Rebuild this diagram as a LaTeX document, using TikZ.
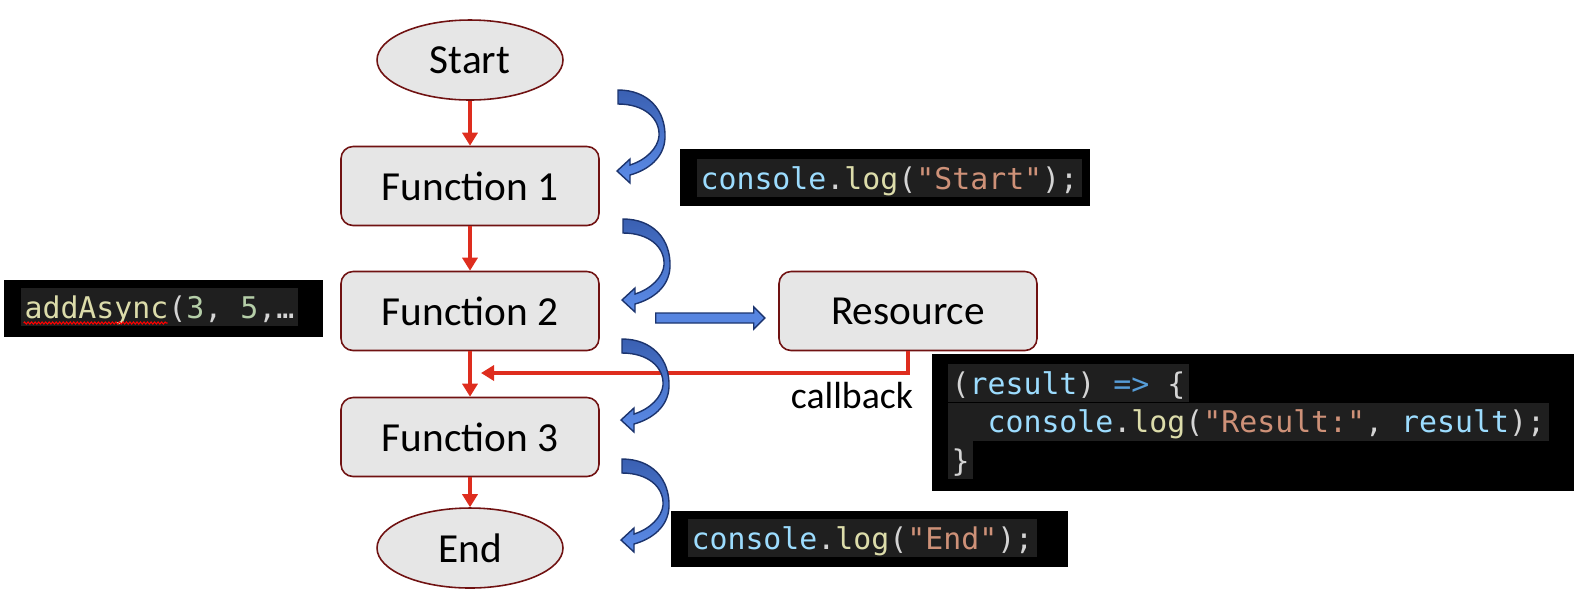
\documentclass[tikz,border=0pt]{standalone}
\usepackage{fontspec}
\setmainfont{Carlito}
\setmonofont{DejaVu Sans Mono}
\usetikzlibrary{shapes.geometric, arrows.meta, decorations.pathmorphing}

\definecolor{boxline}{RGB}{112,18,18}
\definecolor{boxfill}{RGB}{230,230,230}
\definecolor{flowred}{RGB}{222,45,30}
\definecolor{curltop}{RGB}{58,96,178}
\definecolor{curlbot}{RGB}{92,140,232}
\definecolor{curlline}{RGB}{28,52,110}
\definecolor{codebg}{RGB}{31,31,31}
\definecolor{cid}{RGB}{156,220,254}
\definecolor{cfn}{RGB}{220,220,170}
\definecolor{cstr}{RGB}{206,145,120}
\definecolor{cpun}{RGB}{212,212,212}
\definecolor{ckw}{RGB}{86,156,214}
\definecolor{cnum}{RGB}{181,206,168}

\begin{document}
\begin{tikzpicture}[x=0.02cm, y=-0.02cm,
    func/.style={rectangle, rounded corners=0.24cm, draw=boxline, line width=0.9pt, fill=boxfill, minimum width=5.16cm, minimum height=1.58cm, font=\fontsize{23.5}{28}\selectfont},
    term/.style={ellipse, draw=boxline, line width=0.9pt, fill=boxfill, minimum width=3.72cm, minimum height=1.6cm, inner sep=0pt, font=\fontsize{23.5}{28}\selectfont},
    flow/.style={draw=flowred, line width=2.6pt, -{Triangle[width=0.3cm, length=0.26cm]}},
    codebox/.style={fill=black, inner sep=0pt},
    codeline/.style={fill=codebg, text=cpun, anchor=north west, inner xsep=2pt, inner ysep=0pt, text height=0.6cm, text depth=0.16cm, font=\ttfamily\fontsize{17}{20}\selectfont},
    curlfill/.style={draw=curlline, line width=0.8pt, top color=curltop, bottom color=curlbot},
    blockfill/.style={draw=curlline, line width=0.8pt, fill=curlbot!85!curltop},
    squig/.style={draw=red, line width=0.6pt, decorate, decoration={zigzag, segment length=2pt, amplitude=0.6pt}},
    pics/curl/.style={code={
        \path[curlfill] (0,0) .. controls (30,0) and (48,20) .. (47,48)
            .. controls (46,68) and (30,80) .. (12,85) -- (12,93) -- (-1,81) -- (12,69) -- (12,75)
            .. controls (28,70) and (40,58) .. (41,46) .. controls (42,28) and (26,14) .. (0,14) -- cycle;
    }}]

    \useasboundingbox (0,0) rectangle (1577,610);

    % Flow chart
    \node[term] (start) at (470,60) {Start};
    \node[func] (f1) at (470,186) {Function 1};
    \node[func] (f2) at (470,311) {Function 2};
    \node[func] (f3) at (470,437) {Function 3};
    \node[term] (end) at (470,548) {End};
    \node[func] (res) at (908,311) {Resource};

    \draw[flow] (start) -- (f1);
    \draw[flow] (f1) -- (f2);
    \draw[flow] (f2) -- (f3);
    \draw[flow] (f3) -- (end);

    % Callback back into the main flow
    \coordinate (cbtip) at (481,373);
    \draw[flow, line width=2.2pt] (res.south) |- (cbtip);
    \node[font=\fontsize{21.5}{26}\selectfont] (cblabel) at (852,396) {callback};

    % Blue arrows
    \foreach \cx/\cy in {618/90, 623/219, 622/339, 622/459} {
        \pic at (\cx,\cy) {curl};
    }
    \path[blockfill] ([shift={(56,2)}]f2.east) -- ++(98,0) -- ++(0,-6) -- ++(11,11) -- ++(-11,11) -- ++(0,-6) -- ++(-98,0) -- cycle;

    % Code snippets
    \node[codebox, minimum width=8.2cm, minimum height=1.14cm] (cstart) at (885,177.5) {};
    \node[codeline] (lstart) at ([shift={(17,10)}]cstart.north west) {\textcolor{cid}{console}.\textcolor{cfn}{log}(\textcolor{cstr}{"Start"});};

    \node[codebox, minimum width=6.38cm, minimum height=1.14cm] (cadd) at (163.5,308.5) {};
    \node[codeline] (ladd) at ([shift={(17,8)}]cadd.north west) {\textcolor{cfn}{addAsync}(\textcolor{cnum}{3}, \textcolor{cnum}{5},…};
    \draw[squig] ([shift={(3,5)}]ladd.base west) -- ++(144,0);

    \node[codebox, minimum width=12.84cm, minimum height=2.74cm] (cres) at (1253,422.5) {};
    \node[codeline] (lres1) at ([shift={(16,10)}]cres.north west) {(\textcolor{cid}{result}) \textcolor{ckw}{=>} \{};
    \node[codeline] (lres2) at (lres1.south west) {\hphantom{00}\textcolor{cid}{console}.\textcolor{cfn}{log}(\textcolor{cstr}{"Result:"}, \textcolor{cid}{result});};
    \node[codeline] (lres3) at (lres2.south west) {\}};

    \node[codebox, minimum width=7.94cm, minimum height=1.12cm] (cend) at (869.5,539) {};
    \node[codeline] (lend) at ([shift={(17,8)}]cend.north west) {\textcolor{cid}{console}.\textcolor{cfn}{log}(\textcolor{cstr}{"End"});};

\end{tikzpicture}
\end{document}
